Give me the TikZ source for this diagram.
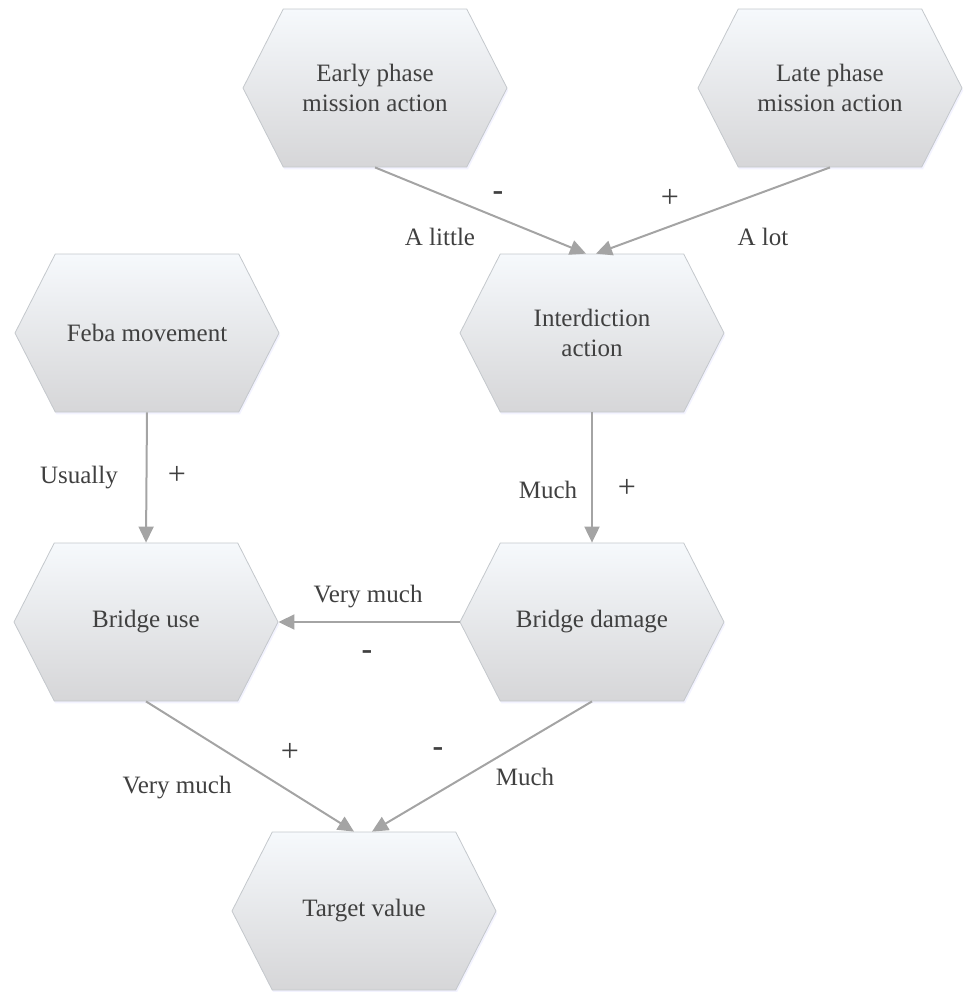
\documentclass[tikz,border=0pt]{standalone}
\usepackage{fontspec}
\setmainfont{Liberation Serif}
\usetikzlibrary{shapes.symbols,arrows.meta,shadows}
\definecolor{hexline}{HTML}{C4C8CC}
\definecolor{hextop}{HTML}{F6F9FC}
\definecolor{hexbot}{HTML}{D6D6D8}
\definecolor{arrgray}{HTML}{A4A4A4}
\definecolor{txtgray}{HTML}{404040}

\begin{document}
\begin{tikzpicture}[x=0.5pt,y=-0.5pt,
    hexnode/.style={signal, signal to=east and west, signal pointer angle=126,
      minimum width=132pt, minimum height=79pt, inner sep=0pt, draw=hexline,
      top color=hextop, bottom color=hexbot, align=center, text=txtgray,
      drop shadow={shadow xshift=0.6pt, shadow yshift=-1.2pt, opacity=0.18, fill=blue!25},
      font=\fontsize{12.5}{15}\selectfont},
    lbl/.style={text=txtgray, inner sep=1pt, font=\fontsize{12.5}{15}\selectfont},
    sign/.style={text=txtgray, inner sep=1pt, font=\fontsize{16}{16}\selectfont},
    conn/.style={draw=arrgray, line width=1pt, -{Triangle[length=8pt,width=7.5pt]}}]
      \useasboundingbox (0,0) rectangle (965,992);
      \path
        (375,88) node[hexnode] (early){Early phase\\mission action}
        (830,88) node[hexnode] (late){Late phase\\mission action}
        (147,333) node[hexnode] (feba){Feba movement}
        (592,333) node[hexnode] (interdiction){Interdiction\\action}
        (146,622) node[hexnode] (bridgeuse){Bridge use}
        (592,622) node[hexnode] (bridgedamage){Bridge damage}
        (364,911) node[hexnode] (target){Target value};
      \begin{scope}[conn]
        \draw (early.south) to ([xshift=-3pt]interdiction.north);
        \draw (late.south) to ([xshift=2pt]interdiction.north);
        \draw (feba.south) to (bridgeuse.north);
        \draw (interdiction.south) to (bridgedamage.north);
        \draw (bridgedamage.west) to (bridgeuse.east);
        \draw (bridgeuse.south) to ([xshift=-5pt]target.north);
        \draw (bridgedamage.south) to ([xshift=4pt]target.north);
      \end{scope}
      \path
        (498,196) node[sign] (earlysign){\textbf{-}}
        (440,237) node[lbl] (earlytext){A little}
        (670,198) node[sign] (latesign){+}
        (763,237) node[lbl] (latetext){A lot}
        (177,475) node[sign] (febasign){+}
        (79,478) node[lbl] (febatext){Usually}
        (627,488) node[sign] (damagesign){+}
        (548,490) node[lbl] (damagetext){Much}
        (367,655) node[sign] (usesign){\textbf{-}}
        (368,597) node[lbl] (usetext){Very much}
        (290,752) node[sign] (targetsigna){+}
        (177,788) node[lbl] (targettexta){Very much}
        (438,752) node[sign] (targetsignb){\textbf{-}}
        (525,777) node[lbl] (targettextb){Much};
    \end{tikzpicture}
\end{document}
